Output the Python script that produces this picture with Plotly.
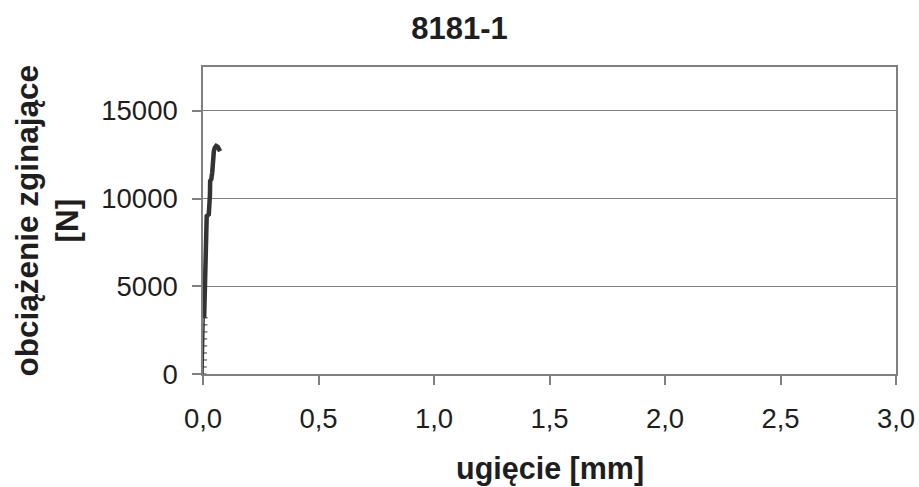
import plotly.graph_objects as go

# Bending test 8181-1: deflection [mm] vs. bending load [N]
# initial loading, sparse readings
defl_start = [0.000, 0.001, 0.002, 0.002, 0.003, 0.003, 0.004, 0.004, 0.005]
load_start = [0, 400, 800, 1200, 1600, 2000, 2400, 2800, 3200]

# main loading curve up to failure
defl_main = [0.005, 0.006, 0.007, 0.008, 0.010, 0.012, 0.014, 0.016, 0.025,
             0.028, 0.030, 0.031, 0.036, 0.040, 0.042, 0.044, 0.047, 0.051,
             0.057, 0.064, 0.070, 0.074]
load_main = [3200, 4000, 5000, 5900, 7000, 8000, 8900, 9000, 9100,
             9500, 10200, 11000, 11100, 11500, 12000, 12400, 12700, 12900,
             13000, 12950, 12850, 12700]

x_ticks = [0.0, 0.5, 1.0, 1.5, 2.0, 2.5, 3.0]
x_tick_text = ["0,0", "0,5", "1,0", "1,5", "2,0", "2,5", "3,0"]
y_ticks = [0, 5000, 10000, 15000]
y_tick_text = ["0", "5000", "10000", "15000"]

title_text = "8181-1"
x_title = "ugięcie [mm]"
y_title = "obciążenie zginające<br>[N]"

FONT = "Liberation Sans, Arial, sans-serif"
INK = "#1e1e1e"
AXIS_GREY = "#808080"
LINE = "#333333"

fig = go.Figure()

fig.add_trace(go.Scatter(
    x=defl_start, y=load_start, mode="lines+markers",
    line=dict(color=LINE, width=1.5),
    marker=dict(symbol="line-ew", size=5, line=dict(color=LINE, width=1)),
    showlegend=False, hoverinfo="x+y",
))
fig.add_trace(go.Scatter(
    x=defl_main, y=load_main, mode="lines",
    line=dict(color=LINE, width=4.5),
    showlegend=False, hoverinfo="x+y",
))

fig.update_layout(
    width=919, height=487,
    margin=dict(l=203, r=23, t=67, b=113, autoexpand=False),
    paper_bgcolor="white", plot_bgcolor="white",
    font=dict(family=FONT, color=INK),
    title=dict(text="<b>" + title_text + "</b>", x=0.5, xref="container",
               xanchor="center", y=1 - 28 / 487, yanchor="middle",
               font=dict(size=31, family=FONT, color=INK)),
    xaxis=dict(
        range=[0, 3.0], tickvals=x_ticks, ticktext=x_tick_text,
        ticks="outside", ticklen=9, tickwidth=1.5, tickcolor=AXIS_GREY,
        showline=True, linecolor=AXIS_GREY, linewidth=1.5, mirror=True,
        showgrid=False, zeroline=False, automargin=False,
        tickfont=dict(size=27.5, family=FONT, color=INK),
        ticklabelstandoff=10,
    ),
    yaxis=dict(
        range=[0, 17500], tickvals=y_ticks, ticktext=y_tick_text,
        ticks="outside", ticklen=9, tickwidth=1.5, tickcolor=AXIS_GREY,
        showline=True, linecolor=AXIS_GREY, linewidth=1.5, mirror=True,
        showgrid=True, gridcolor=AXIS_GREY, gridwidth=1, zeroline=False,
        automargin=False,
        tickfont=dict(size=27.5, family=FONT, color=INK),
        ticklabelstandoff=9,
    ),
    annotations=[
        dict(text="<b>" + x_title + "</b>", xref="paper", yref="paper",
             x=0.5, y=0, yshift=-94, xanchor="center", yanchor="middle",
             showarrow=False, font=dict(size=30.5, family=FONT, color=INK)),
        dict(text="<b>" + y_title + "</b>", xref="paper", yref="paper",
             x=0, y=0.5, xshift=-156, xanchor="center", yanchor="middle",
             textangle=-90, showarrow=False,
             font=dict(size=31.5, family=FONT, color=INK)),
    ],
)

fig.write_html("out.html")
